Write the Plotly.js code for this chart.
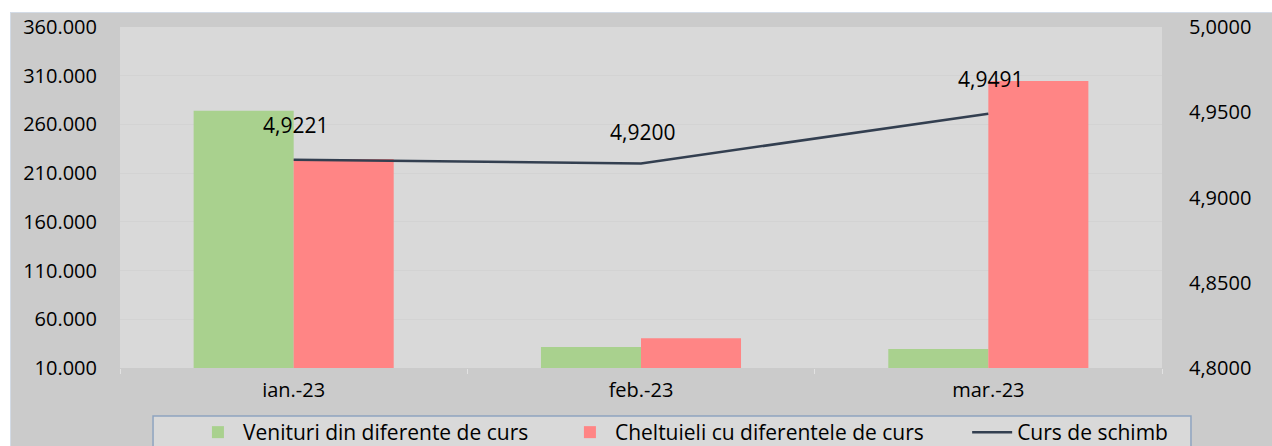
<!DOCTYPE html>
<html>
<head>
<meta charset="utf-8">
<script src="https://cdn.plot.ly/plotly-3.0.1.min.js"></script>
<style>
  body { margin: 0; background: #ffffff; overflow: hidden; }
  #chartDiv { position: absolute; left: 10px; top: 12px; width: 1262px; height: 470px;
              box-sizing: border-box; border-top: 1px solid #d3dbe6; border-left: 1px solid #d3dbe6; }
</style>
</head>
<body>
<div id="chartDiv"></div>
<script>
// data ------------------------------------------------------------
var luni = ['ian.-23', 'feb.-23', 'mar.-23'];
var venituri = [274000, 31500, 29500];
var cheltuieli = [224500, 40500, 304500];
var curs = [4.9221, 4.9200, 4.9491];
var cursLabels = ['4,9221', '4,9200', '4,9491'];

var fontFam = '"Open Sans", "DejaVu Sans", sans-serif';

var trace1 = {
  type: 'bar',
  x: luni,
  y: venituri,
  name: 'Venituri din diferente de curs',
  marker: { color: '#a9d18e' },
  legend: 'legend',
  hoverinfo: 'none'
};

var trace2 = {
  type: 'bar',
  x: luni,
  y: cheltuieli,
  name: 'Cheltuieli cu diferentele de curs',
  marker: { color: '#ff8585' },
  legend: 'legend2',
  hoverinfo: 'none'
};

var trace3 = {
  type: 'scatter',
  mode: 'lines',
  x: luni,
  y: curs,
  yaxis: 'y2',
  name: 'Curs de schimb',
  line: { color: '#333f50', width: 2.5 },
  legend: 'legend3',
  hoverinfo: 'none'
};

// label offsets (px) for the exchange-rate values
var shifts = [[2, 35], [1, 31], [2, 35]];
var annotations = luni.map(function (m, i) {
  return {
    x: m, y: curs[i], xref: 'x', yref: 'y2',
    text: cursLabels[i], showarrow: false,
    xshift: shifts[i][0], yshift: shifts[i][1],
    font: { size: 21, color: '#000000', family: fontFam }
  };
});

// one legend per series, sitting inside a common frame
var legendY = -0.129;
function leg(x) {
  return {
    orientation: 'h', x: x, xanchor: 'left', y: legendY, yanchor: 'top',
    bgcolor: 'rgba(0,0,0,0)', borderwidth: 0,
    font: { size: 21, family: fontFam }, itemwidth: 40
  };
}

var layout = {
  width: 1262,
  height: 470,
  margin: { l: 109, r: 111, t: 14, b: 115 },
  paper_bgcolor: '#cbcbcb',
  plot_bgcolor: '#d9d9d9',
  font: { family: fontFam, size: 21, color: '#000000' },
  barmode: 'group',
  bargap: 0.424,
  bargroupgap: 0,
  showlegend: true,
  legend: leg(0.070),
  legend2: leg(0.427),
  legend3: leg(0.813),
  shapes: [{
    type: 'rect', xref: 'paper', yref: 'paper',
    x0: 0.0317, x1: 1.0278, y0: -0.3, y1: -0.1408,
    fillcolor: '#d9d9d9',
    line: { color: '#8ea4c0', width: 1.5 },
    layer: 'below'
  }],
  xaxis: {
    type: 'category',
    showgrid: false,
    zeroline: false,
    showline: false,
    ticks: 'outside',
    tickson: 'boundaries',
    ticklen: 5,
    tickcolor: '#e2e2e2',
    tickfont: { size: 20 },
    ticklabelstandoff: 8
  },
  yaxis: {
    range: [10000, 360000],
    tickvals: [10000, 60000, 110000, 160000, 210000, 260000, 310000, 360000],
    ticktext: ['10.000', '60.000', '110.000', '160.000', '210.000', '260.000', '310.000', '360.000'],
    showgrid: true,
    gridcolor: '#d3d3d3',
    gridwidth: 1,
    zeroline: false,
    showline: false,
    ticks: '',
    ticklabelstandoff: 22,
    tickfont: { size: 20 }
  },
  yaxis2: {
    overlaying: 'y',
    side: 'right',
    range: [4.8, 5.0],
    tickvals: [4.80, 4.85, 4.90, 4.95, 5.00],
    ticktext: ['4,8000', '4,8500', '4,9000', '4,9500', '5,0000'],
    showgrid: false,
    zeroline: false,
    showline: false,
    ticks: '',
    ticklabelstandoff: 26,
    tickfont: { size: 20 }
  },
  annotations: annotations
};

Plotly.newPlot('chartDiv', [trace1, trace2, trace3], layout, { displayModeBar: false, staticPlot: true });
</script>
</body>
</html>
